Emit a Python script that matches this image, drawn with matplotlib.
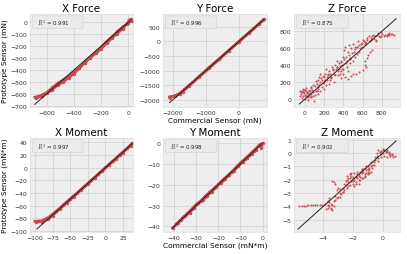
import matplotlib
matplotlib.use("Agg")
import matplotlib.pyplot as plt
from matplotlib.patches import FancyBboxPatch

plt.rcParams['mathtext.fontset'] = 'cm'
plt.rcParams['font.family'] = ['DejaVu Sans']

RED = '#c94a52'

# ---------------- data ----------------
titles = ["X Force", "Y Force", "Z Force", "X Moment", "Y Moment", "Z Moment"]
r2_values = ["0.991", "0.996", "0.875", "0.997", "0.998", "0.902"]

# X Force (commercial, prototype) trace
xf_x = [-690, -640, -600, -560, -520, -480, -440, -400, -360, -320, -280, -240, -200,
        -160, -120, -80, -40, -10, 10, 20, 25, 5, 0, -40, -80, -120, -160, -200, -240,
        -280, -320, -360, -400, -440, -480, -520, -560, -600, -640, -680]
xf_y = [-630, -612, -588, -548, -512, -482, -452, -418, -380, -340, -298, -262, -222,
        -178, -133, -94, -52, -12, 12, 28, 15, 20, -8, -36, -76, -120, -160, -210, -250,
        -292, -338, -382, -432, -468, -502, -528, -565, -596, -622, -636]
xf_line = [-690, 20]

# Y Force trace
yf_x = [-2100, -1950, -1800, -1650, -1500, -1200, -900, -600, -300, 0, 300, 600, 750,
        720, 600, 300, 0, -300, -600, -900, -1200, -1500, -1700, -1900, -2100]
yf_y = [-1900, -1870, -1790, -1645, -1490, -1188, -885, -592, -292, 8, 308, 606, 760,
        715, 578, 280, -22, -318, -622, -918, -1220, -1522, -1722, -1852, -1925]
yf_line = [-2100, 760]

# Z Force scattered samples
zf_x = [-50, -30, -10, 10, 30, 50, -40, -20, 0, 20, 40, 60, -30, 0, 30, 50, 80, 100, 70, 90,
        -50, 10, 100, 120, 150, 140, 170, 200, 180, 210, 230, 250, 260, 280, 300, 310, 320,
        340, 350, 370, 380, 300, 250, 200, 160, 130, 380, 400, 410, 420, 450, 460, 480, 500,
        520, 550, 580, 600, 620, 650, 680, 700, 720, 750, 780, 800, 830, 860, 900, 930, 760,
        400, 420, 450, 480, 500, 530, 560, 600, 620, 630, 650, 640, 680, 700, 660, 440, 470,
        500, 520, 540, 560, 450, 350, 330, 110, 60, 20, -20, 160, 190, 220, 240, 270, 290,
        330, 360, 390, 430, 470, 540, 590, 640, 690, 740, 790, 850, 880, 910,
        60, 80, 110, 130, 150, 190, 210, 220, 240, 260, 270, 290, 310, 330, 340, 360, 370,
        390, 400, 410, 430, 440, 460, 470, 490, 510, 520, 540, 560, 570, 590, 610, 630, 650,
        670, 690, 710, 730, 740, 770, 790, 820, 850, 880, -20, -40, 0, 20, 40, 60, 80, 30,
        -10, 10, 120, 140, 160, 180, 200, 230]
zf_y = [100, 90, 105, 95, 80, 100, 60, 40, 50, 30, 60, 20, 10, 0, -10, 40, 80, 50, 110, -20,
        30, 130, 150, 180, 170, 230, 250, 200, 140, 300, 260, 330, 220, 380, 300, 400, 350,
        280, 420, 330, 250, 200, 180, 120, 100, 60, 450, 500, 580, 620, 560, 640, 600, 650,
        610, 680, 650, 700, 670, 720, 690, 740, 710, 760, 730, 770, 760, 770, 765, 760, 780,
        300, 260, 240, 270, 290, 300, 320, 340, 400, 450, 480, 380, 550, 580, 520, 380, 420,
        450, 500, 530, 560, 330, 350, 450, 90, 130, 70, 80, 300, 270, 350, 290, 250, 350,
        380, 300, 360, 420, 470, 620, 620, 660, 700, 690, 745, 745, 755, 770,
        140, 170, 210, 120, 260, 190, 230, 170, 280, 300, 260, 340, 280, 380, 330, 390, 440,
        400, 360, 470, 500, 450, 520, 480, 540, 560, 590, 620, 640, 600, 660, 690, 650, 700,
        740, 720, 760, 740, 700, 750, 790, 740, 760, 775, 120, 80, 110, 70, 110, 60, 30, 20,
        70, 40, 90, 140, 200, 220, 260, 220]
zf_line = [-60, 950]

# X Moment trace
xm_x = [-100, -95, -90, -85, -80, -70, -60, -50, -40, -30, -20, -10, 0, 10, 20, 30, 38,
        36, 25, 15, 5, -5, -15, -25, -35, -45, -55, -65, -75, -82, -90, -98]
xm_y = [-85, -84.5, -84, -81, -78, -69, -59, -49, -39.5, -29.5, -19.5, -9.5, 0.5, 10.5,
        20.5, 30.5, 39, 35, 24, 14, 4, -6, -16, -26, -36, -46, -56, -66, -76, -81, -86, -86]
xm_line = [-97, 38]

# Y Moment trace
ym_x = [-40.5, -38, -36, -34, -32, -30, -28, -26, -24, -22, -20, -18, -16, -14, -12,
        -10, -8, -6, -4, -2, -1, 0, -0.5, -1.5, -3, -5, -7, -9, -11, -13, -15, -17, -19,
        -21, -23, -25, -27, -29, -31, -33, -35, -37, -39]
ym_y = [-40.6, -38.2, -35.6, -33.8, -31.6, -29.4, -27.8, -25.6, -23.6, -21.8, -19.8,
        -17.6, -15.8, -13.8, -11.6, -9.4, -7.6, -5.6, -3.6, -1.6, -0.6, -0.2, -2.2, -1.0,
        -3.2, -5.2, -7.4, -9.0, -11.2, -13.4, -15.2, -17.4, -19.2, -21.2, -23.4, -25.4,
        -27.4, -29.0, -31.2, -33.4, -35.2, -37.0, -38.8]
ym_line = [-41, 0]

# Z Moment scattered samples
zm_x = [-5.6, -5.3, -5.0, -4.7, -4.4, -4.1, -3.9, -3.7, -3.6, -3.5, -3.8, -3.7, -3.5, -3.4,
        -3.3, -3.6, -3.2, -3.0, -2.9, -3.1, -2.8, -3.3, -3.4, -3.2, -2.7, -2.5, -2.4, -2.3,
        -2.2, -2.1, -2.0, -1.9, -1.8, -1.7, -1.6, -1.5, -1.4, -1.3, -1.2, -1.1, -1.0, -0.9,
        -0.8, -0.7, -2.6, -2.3, -2.0, -1.8, -1.5, -1.2, -1.0, -0.8, -2.4, -2.1, -1.7, -1.4,
        -1.1, -0.6, -0.5, -0.3, -0.1, 0.1, 0.3, 0.5, 0.7, -0.4, -0.2, 0.0, 0.2, 0.4, 0.6,
        -0.3, 0.0, 0.3, -0.1, 0.1, -2.9, -2.7, -3.0, -1.9, -1.6, -2.2, -1.3, -0.9,
        -2.6, -2.5, -2.3, -2.2, -2.1, -2.0, -1.9, -1.8, -1.7, -1.6, -1.5, -1.4, -1.3, -1.2,
        -1.1, -1.0, -0.9, -0.8, -0.7, -0.6, -2.4, -2.2, -2.0, -1.8, -1.6, -1.4, -1.2, -1.0,
        -3.7, -3.6, -3.5, -3.4, -3.3, -3.2, -3.1, -2.9, -2.7, -0.2, 0.0, 0.2, 0.4, -0.4,
        0.1, -0.1, 0.3, 0.5, 0.8, 0.6, -0.5, -0.3, -5.45, -5.15, -4.85, -4.55, -4.25]
zm_y = [-3.95, -3.95, -3.93, -3.92, -3.9, -3.88, -3.85, -3.9, -4.0, -4.1, -4.2, -3.6, -3.8,
        -4.3, -4.0, -3.4, -3.5, -3.3, -3.0, -2.8, -3.1, -2.2, -2.1, -2.3, -2.6, -2.4, -2.0,
        -2.2, -1.9, -2.1, -1.8, -2.0, -1.7, -1.9, -1.6, -1.8, -1.5, -1.4, -1.6, -1.3, -1.2,
        -1.1, -1.0, -0.9, -2.8, -2.5, -2.3, -2.2, -2.0, -1.8, -1.6, -1.4, -1.7, -1.5, -1.4,
        -1.2, -1.0, -0.7, -0.5, -0.4, -0.3, -0.2, -0.3, -0.2, -0.3, 0.0, 0.1, 0.2, 0.15,
        0.05, -0.1, 0.25, 0.3, 0.1, -0.05, 0.2, -3.3, -2.9, -2.6, -2.5, -2.3, -1.6, -1.9, -1.5,
        -2.3, -2.1, -1.9, -2.4, -1.7, -2.1, -1.5, -2.3, -1.6, -2.0, -1.4, -1.9, -1.2, -1.7,
        -1.5, -1.0, -1.3, -0.7, -1.1, -0.9, -2.6, -1.6, -1.9, -1.8, -1.7, -1.3, -1.1, -1.4,
        -4.1, -3.7, -4.2, -3.9, -3.6, -3.2, -3.4, -2.7, -2.9, 0.1, 0.0, 0.05, -0.1, -0.2,
        0.25, 0.15, 0.2, -0.05, -0.25, -0.15, -0.3, -0.6, -3.95, -3.94, -3.93, -3.91, -3.89]
zm_line = [-5.7, 0.9]

panels = [
    (xf_x, xf_y, xf_line, 'trace'),
    (yf_x, yf_y, yf_line, 'trace'),
    (zf_x, zf_y, zf_line, 'scatter'),
    (xm_x, xm_y, xm_line, 'trace'),
    (ym_x, ym_y, ym_line, 'trace'),
    (zm_x, zm_y, zm_line, 'scatter'),
]

limits = [
    ((-725, 35), (-712, 70)),
    ((-2300, 845), (-2250, 935)),
    ((-115, 990), (-95, 1005)),
    ((-107, 39), (-102, 47)),
    ((-45, 2), (-42.7, 2.4)),
    ((-5.97, 1.17), (-5.92, 1.13)),
]
xticks = [[-600, -400, -200, 0], [-2000, -1000, 0], [0, 200, 400, 600, 800],
          [-100, -75, -50, -25, 0, 25], [-40, -30, -20, -10, 0], [-4, -2, 0]]
yticks = [[0, -100, -200, -300, -400, -500, -600, -700], [500, 0, -500, -1000, -1500, -2000],
          [0, 200, 400, 600, 800], [40, 20, 0, -20, -40, -60, -80, -100],
          [0, -10, -20, -30, -40], [1, 0, -1, -2, -3, -4, -5]]

# ---------------- figure ----------------
fig = plt.figure(figsize=(4.07, 2.55), dpi=100)
W, H = 407.0, 255.0
cols = [(30, 133), (163, 267), (294, 400)]
rows = [(15, 108), (139, 233)]

for i, (px, py, line, kind) in enumerate(panels):
    r, c = divmod(i, 3)
    x0, x1 = cols[c]
    t0, t1 = rows[r]
    ax = fig.add_axes([x0 / W, 1 - t1 / H, (x1 - x0) / W, (t1 - t0) / H])
    ax.set_facecolor('#eeeeee')
    ax.grid(True, color='#d4d4d4', lw=0.6)
    ax.set_axisbelow(True)
    for s in ax.spines.values():
        s.set_color('#dddddd')
        s.set_linewidth(0.5)
    if kind == 'trace':
        ax.plot(px, py, color=RED, lw=1.8, solid_joinstyle='round', zorder=2)
        ax.plot(px, py, '.', color=RED, ms=2.8, zorder=2)
    else:
        ax.plot(px, py, 'o', color=RED, ms=1.5, mew=0, alpha=0.95, zorder=2)
    ax.plot(line, line, color='#222222', lw=0.7, zorder=3)
    ax.set_xlim(*limits[i][0])
    ax.set_ylim(*limits[i][1])
    ax.set_xticks(xticks[i])
    ax.set_yticks(yticks[i])
    ax.tick_params(length=0, pad=2, labelsize=4.4, labelcolor='#333333')
    ax.set_title(titles[i], fontsize=7.4, pad=2.5)
    box = FancyBboxPatch((0.025, 0.845), 0.49, 0.135, transform=ax.transAxes,
                         boxstyle="round,pad=0,rounding_size=0.015",
                         facecolor='#ebebeb', edgecolor='#d6d6d6', lw=0.5, zorder=4)
    ax.add_patch(box)
    ax.text(0.07, 0.912, "$R^2$ = " + r2_values[i], transform=ax.transAxes,
            fontsize=4.0, color='#222222', va='center', ha='left', zorder=5)
    if c == 0:
        ax.set_ylabel("Prototype Sensor (mN)" if r == 0 else "Prototype Sensor (mN*m)",
                      fontsize=5.3, labelpad=2)
    if c == 1:
        ax.set_xlabel("Commercial Sensor (mN)" if r == 0 else "Commercial Sensor (mN*m)",
                      fontsize=5.4, labelpad=1.5)

fig.savefig("out.png", dpi=100)
